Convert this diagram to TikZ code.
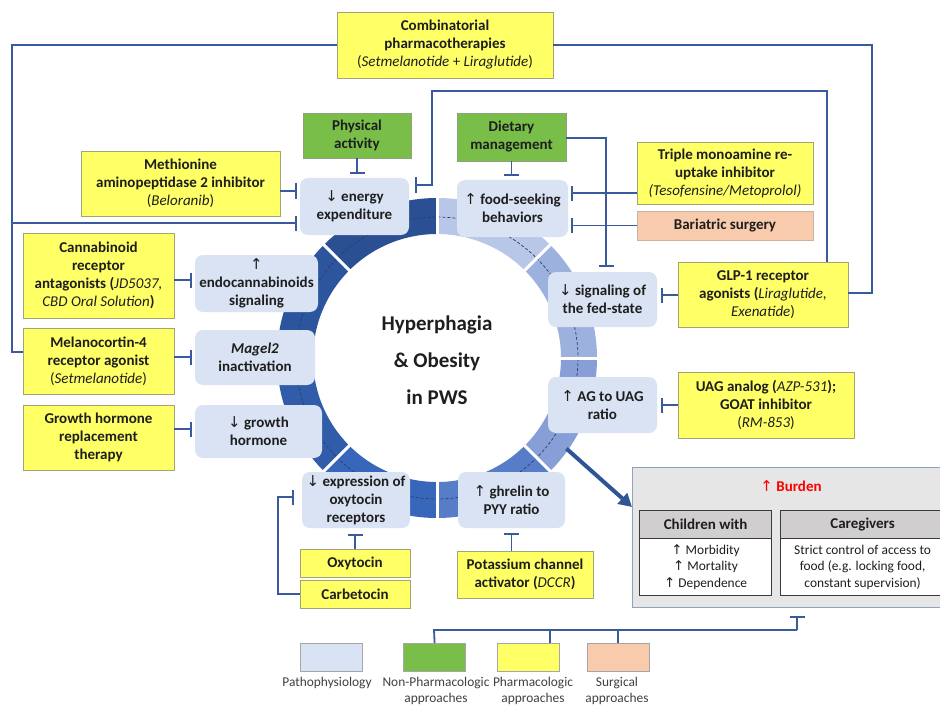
\documentclass[tikz,border=0pt]{standalone}
\usepackage{fontspec}
\setmainfont{Carlito}
\newfontfamily\symf{DejaVu Sans}
\usetikzlibrary{arrows.meta,calc}
\definecolor{lineblue}{HTML}{3A5A9E}
\definecolor{yel}{HTML}{FFFF66}
\definecolor{ybord}{HTML}{A3A37A}
\definecolor{grn}{HTML}{78BE48}
\definecolor{gbord}{HTML}{8FA07A}
\definecolor{org}{HTML}{F8CBAD}
\definecolor{obord}{HTML}{C9B3A3}
\definecolor{pbl}{HTML}{DAE3F3}
\definecolor{txt}{HTML}{1E1E1E}
\definecolor{bgray}{HTML}{E7E6E6}
\definecolor{bbord}{HTML}{8EA2C0}
\definecolor{hgray}{HTML}{D0CECE}
\definecolor{tbord}{HTML}{3A3A3A}
\definecolor{legtxt}{HTML}{404040}
\definecolor{legbord}{HTML}{A6A6A6}
\definecolor{bigblue}{HTML}{2F5597}
\definecolor{rA}{HTML}{2A4F92}
\definecolor{rB}{HTML}{2D559E}
\definecolor{rC}{HTML}{305CAA}
\definecolor{rD}{HTML}{3866BA}
\definecolor{rE}{HTML}{577DC9}
\definecolor{rF}{HTML}{879FD6}
\definecolor{rG}{HTML}{9DB1DF}
\definecolor{rH}{HTML}{B8C6E7}
\definecolor{dashc}{HTML}{2A3F66}
\newcommand\upa{{\symf\mdseries ↑}}
\newcommand\dna{{\symf\mdseries ↓}}
\newcommand\mi[1]{{\mdseries\itshape #1}}
\tikzset{
  base/.style={inner sep=0pt, align=center, font=\bfseries\fontsize{15}{18}\selectfont, text=txt},
  ybox/.style={base, fill=yel, draw=ybord, line width=0.8pt},
  gbox/.style={base, fill=grn, draw=gbord, line width=0.8pt},
  obox/.style={base, fill=org, draw=obord, line width=0.8pt},
  pbox/.style={base, fill=pbl, rounded corners=8pt},
  conn/.style={draw=lineblue, line width=1.8pt},
  inh/.style={draw=lineblue, line width=1.8pt, -{Bar[width=15pt, line width=1.8pt]}},
  legbox/.style={draw=legbord, line width=1.2pt, minimum width=62pt, minimum height=28pt, anchor=north west, inner sep=0pt},
  legtext/.style={font=\fontsize{13.4}{16}\selectfont, text=legtxt, align=center, anchor=north, inner sep=0pt},
  thead/.style={draw=tbord, fill=hgray, line width=1.2pt, anchor=north west, inner sep=0pt, minimum height=28pt, font=\bfseries\fontsize{15}{18}\selectfont, text=txt},
  tbody/.style={draw=tbord, fill=white, line width=1.2pt, anchor=north west, inner sep=0pt, minimum height=57pt, align=center, font=\fontsize{13.4}{16.5}\selectfont, text=txt}
}
\begin{document}
\begin{tikzpicture}[x=1pt,y=-1pt]
\useasboundingbox (0,0) rectangle (940,706);
\clip (0,0) rectangle (940,706);
\fill[white] (0,0) rectangle (940,706);

% ring
\coordinate (C) at (437,358);
\foreach \i/\col in {0/rA,1/rB,2/rC,3/rD,4/rE,5/rF,6/rG,7/rH}{
  \draw[line width=36pt, \col] (C) ++({-(90+45*\i)}:142) arc[start angle={-(90+45*\i)}, end angle={-(135+45*\i)}, radius=142];
}
\draw[dashc, line width=0.7pt, dash pattern=on 3pt off 2pt] (C) circle[radius=141];
\foreach \a in {0,45,...,315}{
  \draw[white, line width=3pt] ($(C)+(\a:121)$) -- ($(C)+(\a:163)$);
}
\node[font=\bfseries\fontsize{21}{37}\selectfont, align=center, text=txt, inner sep=0pt] (hyp) at (437,360) {Hyperphagia\\\& Obesity\\in PWS};

% pathophysiology boxes
\node[pbox, minimum width=109pt, minimum height=57pt] (energy) at (354.5,206.5) {\dna\ energy\\expenditure};
\node[pbox, minimum width=111pt, minimum height=57pt] (food) at (512.5,208.5) {\upa\ food-seeking\\behaviors};
\node[pbox, minimum width=109pt, minimum height=55pt] (fed) at (602.5,299.5) {\dna\ signaling of\\the fed-state};
\node[pbox, minimum width=109pt, minimum height=56pt] (ag) at (602.5,405) {\upa\ AG to UAG\\ratio};
\node[pbox, minimum width=107pt, minimum height=56pt] (ghrelin) at (511.5,500) {\upa\ ghrelin to\\PYY ratio};
\node[pbox, minimum width=108pt, minimum height=56pt] (oxyr) at (356,500) {\dna\ expression of\\oxytocin\\receptors};
\node[pbox, minimum width=127pt, minimum height=53pt] (ghp) at (258.5,431.5) {\dna\ growth\\hormone};
\node[pbox, minimum width=120pt, minimum height=55pt] (magel) at (255,357.5) {\textit{Magel2}\\inactivation};
\node[pbox, minimum width=123pt, minimum height=57pt] (endo) at (256.5,283.5) {\upa\\endocannabinoids\\signaling};

% intervention boxes
\node[ybox, minimum width=216pt, minimum height=66pt] (comb) at (445,45) {Combinatorial\\pharmacotherapies\\{\mdseries(\textit{Setmelanotide} + \textit{Liraglutide})}};
\node[gbox, minimum width=108pt, minimum height=45pt] (phys) at (357,135.5) {Physical\\activity};
\node[ybox, minimum width=199pt, minimum height=65pt] (meth) at (180.5,183.5) {Methionine\\aminopeptidase 2 inhibitor\\{\mdseries(\textit{Beloranib})}};
\node[gbox, minimum width=109pt, minimum height=48pt] (diet) at (511.5,137) {Dietary\\management};
\node[ybox, minimum width=176pt, minimum height=62pt] (triple) at (725,173) {Triple monoamine re-\\uptake inhibitor\\{\mdseries\itshape(Tesofensine/Metoprolol)}};
\node[obox, minimum width=176pt, minimum height=29pt] (bariatric) at (725,225.5) {Bariatric surgery};
\node[ybox, minimum width=170pt, minimum height=65pt] (glp) at (763,294.5) {GLP-1 receptor\\agonists (\mi{Liraglutide,}\\{\mdseries\textit{Exenatide})}};
\node[ybox, minimum width=176pt, minimum height=66pt] (uag) at (766,405) {UAG analog (\mi{AZP-531});\\GOAT inhibitor\\{\mdseries(\textit{RM-853})}};
\node[ybox, minimum width=151pt, minimum height=85pt] (canna) at (98.5,275.5) {Cannabinoid\\receptor\\antagonists (\mi{JD5037,}\\\mi{CBD Oral Solution})};
\node[ybox, minimum width=151pt, minimum height=66pt] (melano) at (98.5,361) {Melanocortin-4\\receptor agonist\\{\mdseries(\textit{Setmelanotide})}};
\node[ybox, minimum width=151pt, minimum height=65pt] (gh) at (98.5,437.5) {Growth hormone\\replacement\\therapy};
\node[ybox, minimum width=110pt, minimum height=28pt] (oxy) at (355,563) {Oxytocin};
\node[ybox, minimum width=110pt, minimum height=28pt] (carb) at (355,594) {Carbetocin};
\node[ybox, minimum width=136pt, minimum height=47pt] (potas) at (525,574.5) {Potassium channel\\activator (\mi{DCCR})};

% burden
\node[draw=bbord, fill=bgray, line width=1pt, minimum width=318pt, minimum height=140pt, inner sep=0pt, anchor=north west] (burden) at (632,467) {};
\node[font=\bfseries\fontsize{15}{18}\selectfont, text=red, inner sep=0pt] (btitle) at (791,486) {{\symf\mdseries ↑} Burden};
\node[thead, minimum width=132pt] (chh) at (639,510) {Children with};
\node[tbody, minimum width=132pt] (chb) at (639,538) {\upa\ Morbidity\\\upa\ Mortality\\\upa\ Dependence};
\node[thead, minimum width=164pt] (cgh) at (780,510) {Caregivers};
\node[tbody, minimum width=164pt] (cgb) at (780,538) {Strict control of access to\\food (e.g. locking food,\\constant supervision)};

% legend
\node[legbox, fill=pbl] (lpath) at (300,643) {};
\node[legbox, fill=grn] (lgreen) at (403,643) {};
\node[legbox, fill=yel] (lyellow) at (497,643) {};
\node[legbox, fill=org] (lorange) at (587,643) {};
\node[legtext] (tpath) at (327,677) {Pathophysiology};
\node[legtext] (tgreen) at (436,677) {Non-Pharmacologic\\approaches};
\node[legtext] (tyellow) at (533,677) {Pharmacologic\\approaches};
\node[legtext] (torange) at (617,677) {Surgical\\approaches};

% connectors
\coordinate (L1) at (12,45);
\coordinate (L2) at (12,352);
\coordinate (L3) at (12,223);
\draw[conn] (comb.west) -- (L1) -- (L2) -- (melano.west |- L2);
\draw[inh, shorten >=3pt] (L3) -- (energy.west |- L3);
\coordinate (R1) at (872,45);
\coordinate (R2) at (872,293);
\draw[conn] (comb.east) -- (R1) -- (R2) -- (glp.east |- R2);
\coordinate (G1) at (827,91);
\coordinate (G2) at (432,91);
\coordinate (G3) at (432,185);
\draw[inh, shorten >=6pt] (glp.north -| G1) -- (G1) -- (G2) -- (G3) -- (energy.east |- G3);
\draw[inh, shorten >=3pt] (meth.east |- 0,191) -- (energy.west |- 0,191);
\draw[inh, shorten >=4pt] (phys.south) -- (phys.south |- energy.north);
\draw[inh, shorten >=4pt] (diet.south) -- (diet.south |- food.north);
\coordinate (D1) at (606,138);
\draw[inh, shorten >=5pt] (diet.east |- D1) -- (D1) -- (fed.north -| D1);
\draw[inh, shorten >=3pt] (triple.west |- 0,193) -- (food.east |- 0,193);
\draw[inh, shorten >=3pt] (bariatric.west) -- (food.east |- bariatric.west);
\draw[inh, shorten >=4pt] (glp.west |- 0,295) -- (fed.east |- 0,295);
\draw[inh, shorten >=4pt] (uag.west) -- (ag.east |- uag.west);
\draw[inh, shorten >=3pt] (canna.east |- 0,280) -- (endo.west |- 0,280);
\draw[inh, shorten >=3pt] (melano.east |- 0,357) -- (magel.west |- 0,357);
\draw[inh, shorten >=3pt] (gh.east |- 0,429) -- (ghp.west |- 0,429);
\draw[inh, shorten >=6pt] (oxy.north) -- (oxy.north |- oxyr.south);
\coordinate (K1) at (278,594);
\coordinate (K2) at (278,497);
\draw[inh, shorten >=8pt] (carb.west) -- (K1) -- (K2) -- (oxyr.west |- K2);
\draw[inh, shorten >=5pt] (ghrelin.south |- potas.north) -- (ghrelin.south);
\coordinate (B1) at (434,630);
\coordinate (B2) at (797,630);
\coordinate (B3) at (550,630);
\coordinate (B4) at (618,630);
\draw[conn] (lgreen.north) -- (B1) -- (B2);
\draw[inh, shorten >=8pt] (B2) -- (burden.south -| B2);
\draw[conn] (B3) -- (B3 |- lyellow.north);
\draw[conn] (B4) -- (B4 |- lorange.north);
\coordinate (arrS) at ($(C)+(35:158)$);
\draw[bigblue, line width=4pt, -{Triangle[length=13pt, width=14pt]}] (arrS) -- (burden.west |- 0,507);
\end{tikzpicture}
\end{document}
